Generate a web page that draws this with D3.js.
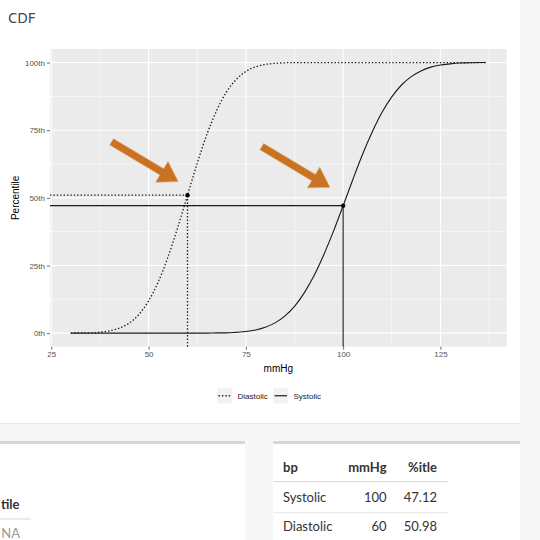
<!DOCTYPE html>
<html>
<head>
<meta charset="utf-8">
<script src="https://cdn.jsdelivr.net/npm/d3@7"></script>
<style>
  html, body { margin: 0; padding: 0; background: #f7f7f7; }
  svg { display: block; }
</style>
</head>
<body>
<div id="page"></div>
<script>
// blood pressure values (x) and the two CDF curves
var mmHg = [30, 32.5, 35, 37.5, 40, 42.5, 45, 47.5, 50, 52.5, 55, 57.5, 60, 62.5, 65, 67.5,
    70, 72.5, 75, 77.5, 80, 82.5, 85, 87.5, 90, 92.5, 95, 97.5, 100, 102.5, 105, 107.5,
    110, 112.5, 115, 117.5, 120, 122.5, 125, 127.5, 130, 132.5, 135, 136.7];

var diastolicPct = [0.000, 0.001, 0.001, 0.004, 0.009, 0.019, 0.037, 0.069, 0.119, 0.190, 0.282, 0.391,
    0.510, 0.628, 0.735, 0.823, 0.891, 0.937, 0.967, 0.984, 0.993, 0.997, 0.999, 1.000,
    1.000, 1.000, 1.000, 1.000, 1.000, 1.000, 1.000, 1.000, 1.000, 1.000, 1.000, 1.000,
    1.000, 1.000, 1.000, 1.000, 1.000, 1.000, 1.000, 1.000];

var systolicPct = [0.000, 0.000, 0.000, 0.000, 0.000, 0.000, 0.000, 0.000, 0.000, 0.000, 0.000, 0.000,
    0.000, 0.000, 0.000, 0.001, 0.001, 0.003, 0.006, 0.012, 0.022, 0.038, 0.063, 0.099,
    0.149, 0.212, 0.289, 0.376, 0.471, 0.568, 0.661, 0.744, 0.816, 0.873, 0.917, 0.948,
    0.969, 0.983, 0.991, 0.995, 0.998, 0.999, 1.000, 1.000];

// table shown under the chart
var tableCols = ["bp", "mmHg", "%itle"];
var tableBp = ["Systolic", "Diastolic"];
var tableMmHg = [100, 60];
var tablePct = [47.12, 50.98];

// axis ticks
var xTicks = [25, 50, 75, 100, 125];
var xMinor = [37.5, 62.5, 87.5, 112.5, 137.5];
var yTicks = [0, 0.25, 0.5, 0.75, 1];
var yTickLabels = ["0th", "25th", "50th", "75th", "100th"];
var yMinor = [0.125, 0.375, 0.625, 0.875];

// orange call-out arrows (data coords: start -> tip)
var arrowFromX = [40.5, 79.1];
var arrowFromY = [0.707, 0.689];
var arrowToX = [57.6, 96.6];
var arrowToY = [0.560, 0.539];

var W = 540, H = 540;
var svg = d3.select("#page").append("svg")
    .attr("width", W)
    .attr("height", H);

//boxes
svg.append("rect").attr("x", 0).attr("y", 0).attr("width", W).attr("height", H).style("fill", "#f7f7f7");
svg.append("rect").attr("x", -5).attr("y", -5).attr("width", 525).attr("height", 428).style("fill", "white");
svg.append("line").attr("x1", -5).attr("x2", 520).attr("y1", 423.5).attr("y2", 423.5)
    .style("stroke", "#e9e9e9");

svg.append("text")
    .attr("x", 8).attr("y", 23)
    .style("font-family", "'Noto Sans', sans-serif")
    .style("font-size", "14.5px")
    .style("fill", "#444")
    .text("CDF");

// lower boxes
var lowBoxes = [{x: -5, w: 250}, {x: 273.3, w: 246.7}];
lowBoxes.forEach(function (b) {
    svg.append("rect").attr("x", b.x).attr("y", 441).attr("width", b.w).attr("height", 110).style("fill", "white");
    svg.append("rect").attr("x", b.x).attr("y", 441).attr("width", b.w).attr("height", 3).style("fill", "#d2d6de");
});

// plot panel
var pLeft = 50, pRight = 506.7, pTop = 49, pBottom = 346.7;
var ext = d3.extent(mmHg);
var pad = (ext[1] - ext[0]) * 0.05;
var x = d3.scaleLinear().domain([ext[0] - pad, ext[1] + pad]).range([pLeft, pRight]);
var y = d3.scaleLinear().domain([-0.05, 1.05]).range([pBottom, pTop]);

var g = svg.append("g");
g.append("rect")
    .attr("x", pLeft).attr("y", pTop)
    .attr("width", pRight - pLeft).attr("height", pBottom - pTop)
    .style("fill", "#ebebeb");

// grid
g.selectAll(".yminor").data(yMinor).enter().append("line")
    .attr("x1", pLeft).attr("x2", pRight)
    .attr("y1", function (d) { return y(d); }).attr("y2", function (d) { return y(d); })
    .style("stroke", "white").style("stroke-width", 0.55);
g.selectAll(".xminor").data(xMinor.filter(function (d) { return x(d) < pRight; })).enter().append("line")
    .attr("y1", pTop).attr("y2", pBottom)
    .attr("x1", function (d) { return x(d); }).attr("x2", function (d) { return x(d); })
    .style("stroke", "white").style("stroke-width", 0.55);
g.selectAll(".ymajor").data(yTicks).enter().append("line")
    .attr("x1", pLeft).attr("x2", pRight)
    .attr("y1", function (d) { return y(d); }).attr("y2", function (d) { return y(d); })
    .style("stroke", "white").style("stroke-width", 1.1);
g.selectAll(".xmajor").data(xTicks).enter().append("line")
    .attr("y1", pTop).attr("y2", pBottom)
    .attr("x1", function (d) { return x(d); }).attr("x2", function (d) { return x(d); })
    .style("stroke", "white").style("stroke-width", 1.1);

// axes
var yAxis = d3.axisLeft(y).tickValues(yTicks)
    .tickFormat(function (d, i) { return yTickLabels[i]; })
    .tickSize(3).tickPadding(2);
var xAxis = d3.axisBottom(x).tickValues(xTicks).tickSize(3).tickPadding(2);

var ya = svg.append("g").attr("transform", "translate(" + pLeft + ",0)").call(yAxis);
var xa = svg.append("g").attr("transform", "translate(0," + pBottom + ")").call(xAxis);
[ya, xa].forEach(function (a) {
    a.select(".domain").remove();
    a.selectAll(".tick line").style("stroke", "#444").style("stroke-width", 0.8);
    a.selectAll(".tick text")
        .style("font-family", "'Liberation Sans', Arial, sans-serif")
        .style("font-size", "8px")
        .style("fill", "#555");
});

svg.append("text")
    .attr("x", (pLeft + pRight) / 2).attr("y", 372)
    .attr("text-anchor", "middle")
    .style("font-family", "'Liberation Sans', Arial, sans-serif")
    .style("font-size", "10px")
    .text("mmHg");
svg.append("text")
    .attr("transform", "translate(19," + ((pTop + pBottom) / 2) + ") rotate(-90)")
    .attr("text-anchor", "middle")
    .style("font-family", "'Liberation Sans', Arial, sans-serif")
    .style("font-size", "10px")
    .text("Percentile");

// curves
var line = d3.line()
    .x(function (d, i) { return x(mmHg[i]); })
    .y(function (d) { return y(d); })
    .curve(d3.curveMonotoneX);

var dotted = "1.4,2";
g.append("path").datum(diastolicPct).attr("d", line)
    .style("fill", "none").style("stroke", "#1a1a1a").style("stroke-width", 1.3)
    .style("stroke-dasharray", dotted);
g.append("path").datum(systolicPct).attr("d", line)
    .style("fill", "none").style("stroke", "#1a1a1a").style("stroke-width", 1.1);

// reference segments + points
tableBp.forEach(function (bp, i) {
    var mx = x(tableMmHg[i]), my = y(tablePct[i] / 100);
    var dash = bp === "Diastolic" ? dotted : null;
    var sw = bp === "Diastolic" ? 1.3 : 1.1;
    g.append("line").attr("x1", pLeft).attr("x2", mx).attr("y1", my).attr("y2", my)
        .style("stroke", "#1a1a1a").style("stroke-width", sw).style("stroke-dasharray", dash);
    g.append("line").attr("x1", mx).attr("x2", mx).attr("y1", pBottom).attr("y2", my)
        .style("stroke", "#1a1a1a").style("stroke-width", sw).style("stroke-dasharray", dash);
    g.append("circle").attr("cx", mx).attr("cy", my).attr("r", 2.2).style("fill", "black");
});

// arrows
arrowFromX.forEach(function (d, i) {
    var x0 = x(arrowFromX[i]), y0 = y(arrowFromY[i]);
    var x1 = x(arrowToX[i]), y1 = y(arrowToY[i]);
    var len = Math.sqrt((x1 - x0) * (x1 - x0) + (y1 - y0) * (y1 - y0));
    var ux = (x1 - x0) / len, uy = (y1 - y0) / len;
    var nx = -uy, ny = ux;
    var headLen = 19, headW = 12, shaftW = 3.6;
    var bx = x1 - ux * headLen, by = y1 - uy * headLen;
    var pts = [
        [x0 + nx * shaftW, y0 + ny * shaftW],
        [bx + nx * shaftW, by + ny * shaftW],
        [bx + nx * headW, by + ny * headW],
        [x1, y1],
        [bx - nx * headW, by - ny * headW],
        [bx - nx * shaftW, by - ny * shaftW],
        [x0 - nx * shaftW, y0 - ny * shaftW]
    ];
    g.append("path")
        .attr("d", "M" + pts.join("L") + "Z")
        .style("fill", "#c97224")
        .style("stroke", "#e0a060")
        .style("stroke-width", 0.6);
});

// legend
var legendItems = [{label: "Diastolic", dash: dotted, x: 217}, {label: "Systolic", dash: null, x: 273}];
legendItems.forEach(function (it) {
    svg.append("rect").attr("x", it.x).attr("y", 388).attr("width", 15.5).attr("height", 15.5)
        .style("fill", "#f2f2f2");
    svg.append("line").attr("x1", it.x + 1.5).attr("x2", it.x + 14).attr("y1", 395.75).attr("y2", 395.75)
        .style("stroke", "#1a1a1a").style("stroke-width", it.dash ? 1.3 : 1.2).style("stroke-dasharray", it.dash);
    svg.append("text").attr("x", it.x + 20.5).attr("y", 398.7)
        .style("font-family", "'Liberation Sans', Arial, sans-serif")
        .style("font-size", "8px")
        .style("fill", "#222")
        .text(it.label);
});

// table (right box)
var tFont = "Lato, 'Noto Sans', sans-serif";
var colX = [283, 386.5, 437];
var colAnchor = ["start", "end", "end"];
tableCols.forEach(function (c, j) {
    svg.append("text").attr("x", colX[j]).attr("y", 471.5)
        .attr("text-anchor", colAnchor[j])
        .style("font-family", tFont).style("font-size", "13px").style("font-weight", "bold")
        .style("fill", "#333")
        .text(c);
});
svg.append("line").attr("x1", 273.5).attr("x2", 448).attr("y1", 481.7).attr("y2", 481.7)
    .style("stroke", "#ddd").style("stroke-width", 1.2);
tableBp.forEach(function (bp, i) {
    var yy = 501.5 + i * 29;
    var vals = [bp, tableMmHg[i], tablePct[i].toFixed(2)];
    vals.forEach(function (v, j) {
        svg.append("text").attr("x", colX[j]).attr("y", yy)
            .attr("text-anchor", colAnchor[j])
            .style("font-family", tFont).style("font-size", "13px")
            .style("fill", "#333")
            .text(v);
    });
    svg.append("line").attr("x1", 273.5).attr("x2", 448).attr("y1", 512.7 + i * 29).attr("y2", 512.7 + i * 29)
        .style("stroke", "#e6e6e6");
});

// left box (only the tail of its table is in view)
svg.append("text").attr("x", 19.5).attr("y", 508.5).attr("text-anchor", "end")
    .style("font-family", tFont).style("font-size", "13px").style("font-weight", "bold")
    .style("fill", "#333").text("tile");
svg.append("line").attr("x1", 0).attr("x2", 31).attr("y1", 519).attr("y2", 519)
    .style("stroke", "#ddd").style("stroke-width", 1.2);
svg.append("text").attr("x", 20).attr("y", 538).attr("text-anchor", "end")
    .style("font-family", tFont).style("font-size", "13px")
    .style("fill", "#999").text("NA");
</script>
</body>
</html>
